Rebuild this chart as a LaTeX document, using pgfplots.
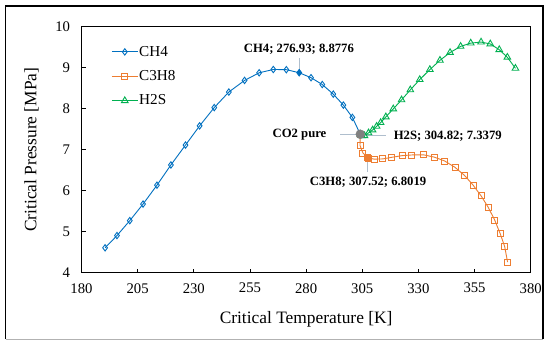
\documentclass[border=0pt]{standalone}
\usepackage{fontspec}
\setmainfont{Liberation Serif}
\usepackage{pgfplots}
\pgfplotsset{compat=1.18}
\definecolor{cblue}{RGB}{0,112,192}
\definecolor{corange}{RGB}{237,125,49}
\definecolor{cgreen}{RGB}{0,176,80}
\definecolor{cgray}{RGB}{128,128,128}
\definecolor{lead}{RGB}{175,190,205}
\begin{document}
\begin{tikzpicture}[x=1pt,y=1pt]
\useasboundingbox (0,0) rectangle (546,341);
\fill[white] (0,0) rectangle (546,341);
\begin{axis}[at={(81.5pt,68.3pt)}, anchor=south west, scale only axis,
  width=449.2pt, height=246pt,
  xmin=180, xmax=380, ymin=4, ymax=10,
  xtick={180,205,...,380}, ytick={4,5,...,10},
  tick pos=left, tick align=inside, major tick length=4pt,
  axis line style={line width=1pt}, tick style={line width=0.8pt, black},
  /pgf/number format/assume math mode=true,
  ticklabel style={font=\fontsize{14.7}{16}\selectfont},
  yticklabel style={xshift=-8pt}, xticklabel style={yshift=-7pt},
  xlabel={Critical Temperature [K]}, ylabel={Critical Pressure [MPa]},
  label style={font=\fontsize{17.4}{20}\selectfont},
  xlabel style={at={(axis description cs:0.5,-0.188)}, anchor=center},
  ylabel style={at={(axis description cs:-0.1115,0.5)}, anchor=center},
  legend style={at={(axis description cs:0.066,0.926)}, anchor=north west, draw=none, fill=none,
    font=\fontsize{15.2}{17}\selectfont, row sep=10.8pt, inner sep=0pt, nodes={inner sep=1pt}},
  legend cell align=left,
  legend image code/.code={\draw[mark repeat=2,mark phase=2,#1] plot coordinates {(0pt,0pt) (13pt,0pt) (26pt,0pt)};},
  clip=false,
]
\addplot[color=cblue, line width=0.9pt, mark=diamond, mark size=3.2pt, mark options={line width=0.9pt, fill=white}] coordinates {
(190.5,4.607) (195.8,4.906) (201.5,5.27) (207.4,5.674) (213.6,6.135) (219.8,6.628)
(226.3,7.113) (232.6,7.582) (239.1,8.027) (245.6,8.407) (252.6,8.69) (259.1,8.876)
(265.4,8.957) (271.2,8.952) (276.93,8.8776) (282.2,8.756) (287.2,8.59) (292.1,8.355)
(296.6,8.088) (300.6,7.788) (304.13,7.3773)};
\addlegendentry{CH4}
\addplot[color=corange, line width=0.9pt, mark=square, mark size=3pt, mark options={line width=0.9pt, fill=white}] coordinates {
(304.13,7.3773) (304.0,7.105) (305.3,6.92) (307.52,6.8019) (310.3,6.77) (314.0,6.775)
(318.2,6.815) (322.7,6.855) (327.1,6.872) (332.3,6.875) (337.0,6.82) (341.7,6.725)
(346.3,6.57) (350.5,6.375) (354.3,6.14) (357.9,5.875) (361.1,5.595) (364.0,5.28)
(366.4,4.955) (368.4,4.64) (369.7,4.26)};
\addlegendentry{C3H8}
\addplot[color=cgreen, line width=0.9pt, mark=triangle, mark size=3.8pt, mark options={line width=0.9pt, fill=white}] coordinates {
(304.13,7.3773) (304.82,7.3379) (306.0,7.34) (307.8,7.41) (309.6,7.48) (311.4,7.57)
(313.2,7.66) (315.5,7.80) (318.8,7.995) (322.5,8.215) (326.4,8.46) (330.6,8.71)
(335.1,8.955) (339.6,9.18) (344.1,9.37) (348.8,9.52) (353.3,9.60) (357.9,9.625)
(362.0,9.58) (366.0,9.44) (369.6,9.255) (373.2,8.985)};
\addlegendentry{H2S}
\addplot[forget plot, only marks, color=cblue, mark=diamond*, mark size=3.2pt] coordinates {(276.93,8.8776)};
\addplot[forget plot, only marks, color=corange, mark=square*, mark size=3pt] coordinates {(307.52,6.8019)};
\addplot[forget plot, only marks, color=cgreen, mark=triangle*, mark size=3.8pt] coordinates {(304.82,7.3379)};
% leader lines
\draw[lead, line width=1pt] (axis cs:276.93,9.236) -- (axis cs:276.93,8.8776);
\draw[lead, line width=1pt] (axis cs:295.1,7.3773) -- (axis cs:304.13,7.3773);
\draw[lead, line width=1pt] (axis cs:304.82,7.3379) -- (axis cs:315.6,7.3379);
\draw[lead, line width=1pt] (axis cs:307.52,6.8019) -- (axis cs:307.52,6.46);
\addplot[forget plot, only marks, color=cgray, mark=*, mark size=4.5pt] coordinates {(304.13,7.3773)};
\node[font=\bfseries\fontsize{12.7}{14}\selectfont] at (axis cs:276.8,9.456) {CH4; 276.93; 8.8776};
\node[font=\bfseries\fontsize{12.7}{14}\selectfont, anchor=east] at (axis cs:290.6,7.37) {CO2 pure};
\node[font=\bfseries\fontsize{12.7}{14}\selectfont, anchor=west] at (axis cs:317.5,7.334) {H2S; 304.82; 7.3379};
\node[font=\bfseries\fontsize{12.7}{14}\selectfont] at (axis cs:307.6,6.195) {C3H8; 307.52; 6.8019};
\end{axis}
\draw[line width=1.5pt] (5.5,2) -- (5.5,335) -- (543,335) -- (543,2);
\draw[gray!60, line width=1pt] (5.5,2) -- (543,2);
\end{tikzpicture}
\end{document}
